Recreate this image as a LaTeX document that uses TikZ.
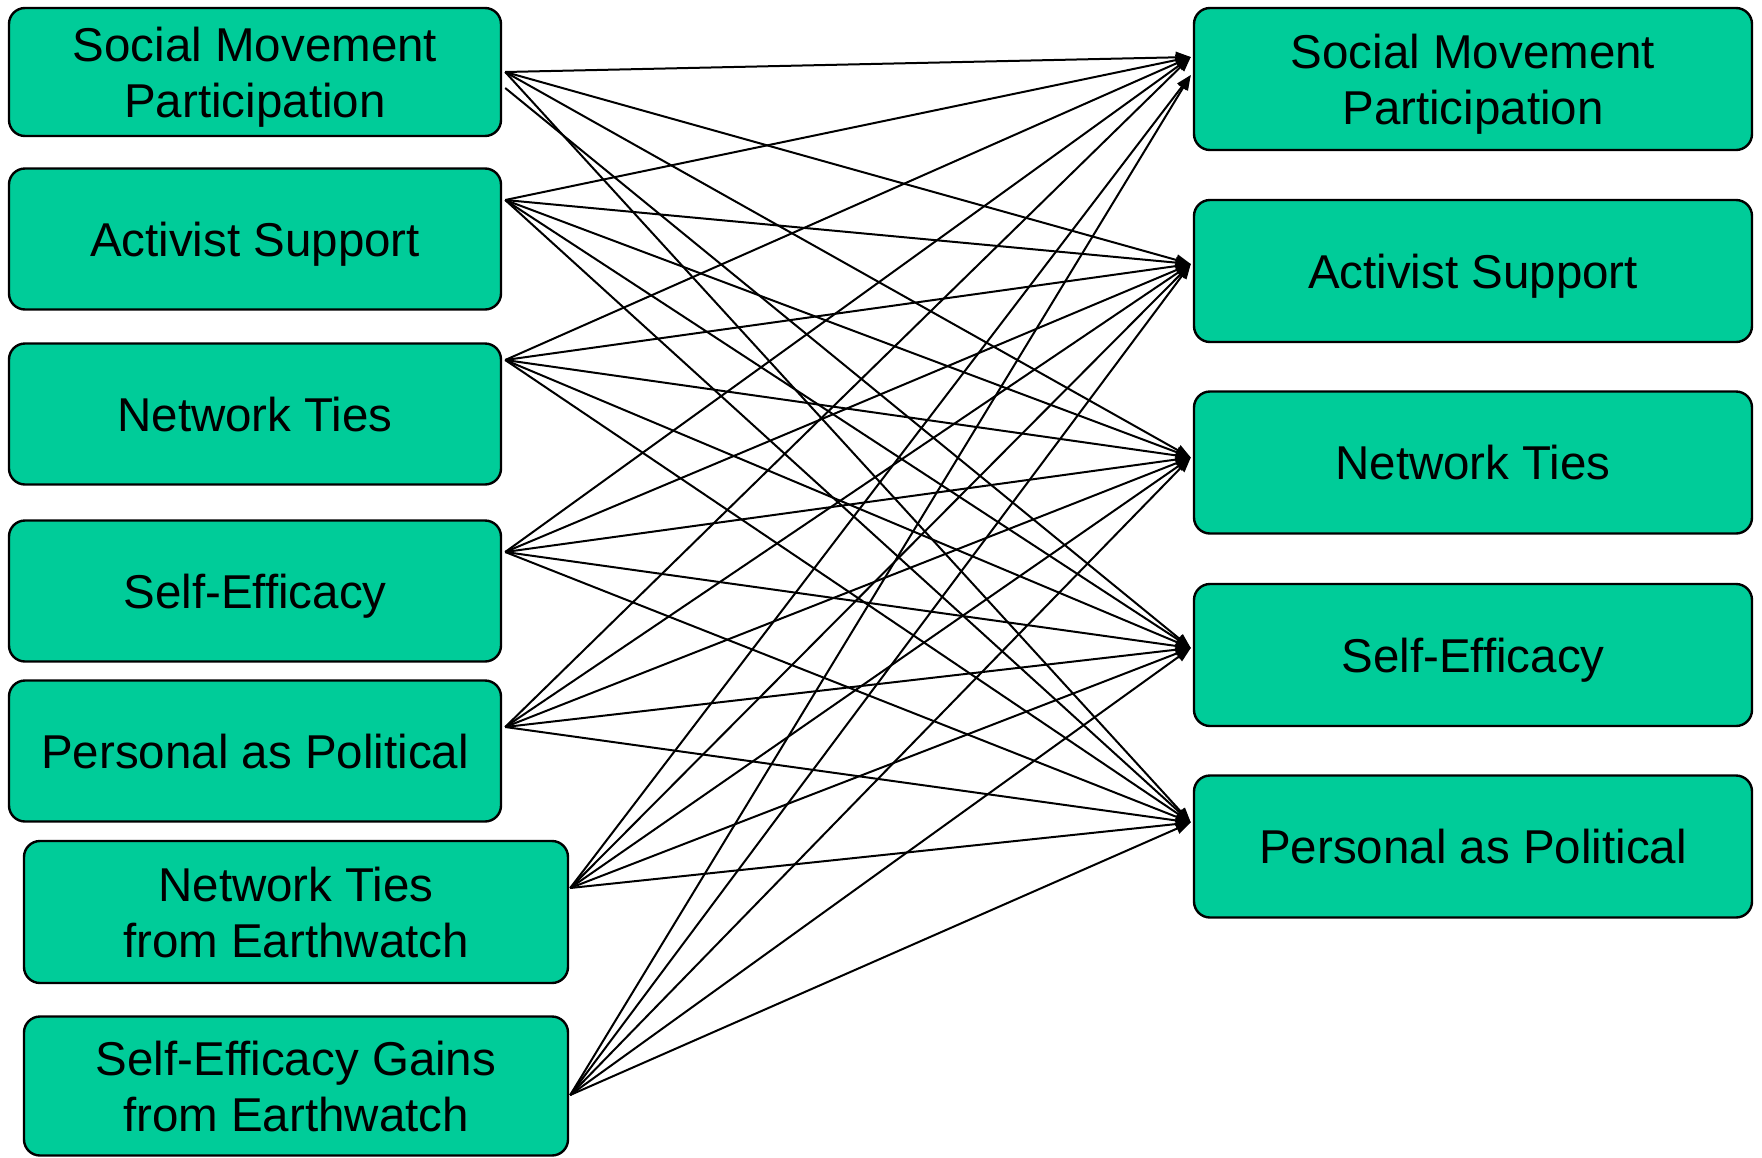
\documentclass[tikz,border=0pt]{standalone}
\usepackage{fontspec}
\setmainfont{Liberation Sans}
\usetikzlibrary{arrows.meta, calc}
\definecolor{boxgreen}{RGB}{0,204,153}

\begin{document}
\begin{tikzpicture}[x=1pt, y=-1pt,
		var/.style={draw, line width=2.4pt, rounded corners=16pt, fill=boxgreen, align=center, inner sep=0pt, text depth=0pt, font=\fontsize{47.5}{56}\selectfont},
		before/.style={var, minimum width=492pt, minimum height=141pt},
		gain/.style={var, minimum width=544pt, minimum height=142pt},
		after/.style={var, minimum width=558pt, minimum height=142pt},
		link/.style={line width=2pt, arrows={-Triangle[length=15pt, width=11pt]}}]
	\useasboundingbox (0,0) rectangle (1762,1157);

	% time 1 and Earthwatch measures
	\node[before, minimum height=128pt] (l1) at (255,72) {Social Movement\\Participation};
	\node[before] (l2) at (255,239) {Activist Support};
	\node[before] (l3) at (255,414) {Network Ties};
	\node[before] (l4) at (255,591) {Self-Efficacy};
	\node[before] (l5) at (255,751) {Personal as Political};
	\node[gain] (l6) at (296,912) {Network Ties\\from Earthwatch};
	\node[gain, minimum height=139pt] (l7) at (296,1086) {Self-Efficacy Gains\\from Earthwatch};

	% time 2 measures
	\node[after] (r1) at (1473,79) {Social Movement\\Participation};
	\node[after] (r2) at (1473,271) {Activist Support};
	\node[after] (r3) at (1473,462.5) {Network Ties};
	\node[after] (r4) at (1473,655) {Self-Efficacy};
	\node[after] (r5) at (1473,846.5) {Personal as Political};

	\coordinate (l1-o) at ($(l1.east)+(3,0)$);
	\coordinate (l1-p) at ($(l1.east)+(3,16)$);
	\coordinate (l2-o) at ($(l2.east)+(3,-39)$);
	\coordinate (l3-o) at ($(l3.east)+(3,-54)$);
	\coordinate (l4-o) at ($(l4.east)+(3,-39)$);
	\coordinate (l5-o) at ($(l5.east)+(3,-24)$);
	\coordinate (l6-o) at ($(l6.east)+(1,-24)$);
	\coordinate (l7-o) at ($(l7.east)+(1,9)$);

	\coordinate (r1-i) at ($(r1.west)+(-2,-22)$);
	\coordinate (r1-j) at ($(r1.west)+(-2,-4)$);
	\coordinate (r2-i) at ($(r2.west)+(-2,-7)$);
	\coordinate (r3-i) at ($(r3.west)+(-2,-5)$);
	\coordinate (r4-i) at ($(r4.west)+(-2,-7)$);
	\coordinate (r5-i) at ($(r5.west)+(-2,-24)$);

	\foreach \s in {l2,l3,l4,l5}
		\foreach \t in {r1,r2,r3,r4,r5}
			\draw[link] (\s-o) -- (\t-i);
	\foreach \s in {l6,l7}
		\foreach \t in {r2,r3,r4,r5}
			\draw[link] (\s-o) -- (\t-i);
	\foreach \t in {r1,r2,r3,r5}
		\draw[link] (l1-o) -- (\t-i);
	\draw[link] (l1-p) -- (r4-i);
	\draw[link] (l6-o) -- (r1-j);
	\draw[link] (l7-o) -- (r1-j);
\end{tikzpicture}
\end{document}
